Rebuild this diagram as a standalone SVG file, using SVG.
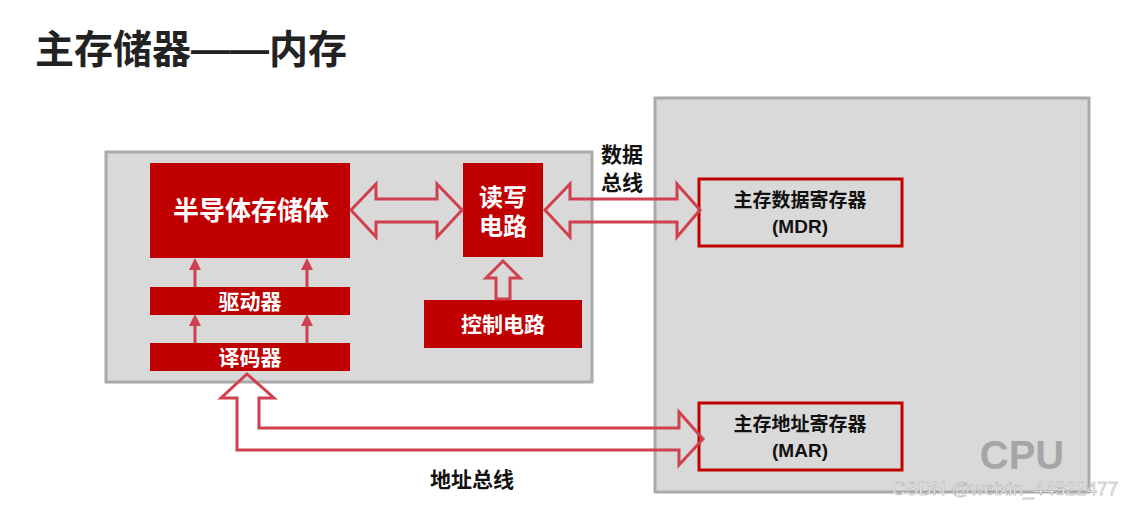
<svg xmlns="http://www.w3.org/2000/svg" width="1136" height="507" viewBox="0 0 1136 507">
<style>
.t{font-family:"Liberation Sans","Noto Sans CJK SC",sans-serif;font-weight:bold}
.red{fill:#c00000}
.wt{fill:#fff;font-size:21px;text-anchor:middle}
.big{font-size:26px}
.mid{font-size:24px}
.hol{fill:none;stroke:#d0404f;stroke-width:3;stroke-linejoin:miter}
.thin{stroke:#d0404f;stroke-width:3}
</style>
<defs><marker id="ah" markerWidth="4" markerHeight="4" refX="2" refY="2" orient="auto" markerUnits="strokeWidth"><path d="M0,0L4,2L0,4z" fill="#d0404f"/></marker></defs>
<rect width="1136" height="507" fill="#fff"/>
<text class="t" x="35" y="63" font-size="39" fill="#222">主存储器——内存</text>
<g id="memory"><rect x="106" y="152" width="486" height="230" fill="#d9d9d9" stroke="#aaa" stroke-width="3"/></g>
<g id="cpu"><rect x="655" y="98" width="434" height="394" fill="#d9d9d9" stroke="#aaa" stroke-width="3"/>
<text class="t" x="1022" y="469" font-size="40" fill="#a6a6a6" text-anchor="middle">CPU</text></g>
<g id="storage"><rect class="red" x="150" y="163" width="200" height="95"/><text class="t wt big" x="251" y="220">半导体存储体</text></g>
<g id="rw"><rect class="red" x="463" y="163" width="80" height="94"/><text class="t wt mid" x="503" y="206">读写</text><text class="t wt mid" x="503" y="235">电路</text></g>
<g id="driver"><rect class="red" x="150" y="287" width="200" height="28"/><text class="t wt" x="250" y="309">驱动器</text></g>
<g id="decoder"><rect class="red" x="150" y="343" width="200" height="28"/><text class="t wt" x="250" y="365">译码器</text></g>
<g id="ctrl"><rect class="red" x="424" y="300" width="158" height="48"/><text class="t wt" x="503" y="332">控制电路</text></g>
<g id="mdr"><rect x="699" y="179" width="203" height="67" fill="#d9d9d9" stroke="#c00000" stroke-width="3"/><text class="t" x="800" y="207" font-size="19" text-anchor="middle" fill="#111">主存数据寄存器</text><text class="t" x="800" y="233" font-size="19" text-anchor="middle" fill="#111">(MDR)</text></g>
<g id="mar"><rect x="699" y="403" width="203" height="67" fill="#d9d9d9" stroke="#c00000" stroke-width="3"/><text class="t" x="800" y="431" font-size="19" text-anchor="middle" fill="#111">主存地址寄存器</text><text class="t" x="800" y="457" font-size="19" text-anchor="middle" fill="#111">(MAR)</text></g>
<g id="connectors">
<path class="hol" d="M351,210L376,184V199H437V184L462,210L437,237V222H376V237Z"/>
<path class="hol" d="M545,210L570,184V199H677V184L700,210L677,237V222H570V237Z"/>
<path class="hol" d="M503,261L520,278H510V299H496V278H486Z"/>
<path class="hol" d="M247,374L274,398H259V428H679V412L703,439L679,465V450H237V398H221Z"/>
<line class="thin" x1="195" y1="287" x2="195" y2="264" marker-end="url(#ah)"/>
<line class="thin" x1="307" y1="287" x2="307" y2="264" marker-end="url(#ah)"/>
<line class="thin" x1="195" y1="343" x2="195" y2="320" marker-end="url(#ah)"/>
<line class="thin" x1="307" y1="343" x2="307" y2="320" marker-end="url(#ah)"/>
</g>
<text class="t" x="622" y="162" font-size="21" text-anchor="middle" fill="#111">数据</text>
<text class="t" x="622" y="190" font-size="21" text-anchor="middle" fill="#111">总线</text>
<text class="t" x="472" y="487" font-size="21" text-anchor="middle" fill="#111">地址总线</text>
<text x="1005" y="495" font-size="19" font-family="Liberation Sans,sans-serif" text-anchor="middle" fill="#f2f2f2" stroke="#999" stroke-width="0.4">CSDN @weixin_44522477</text>
</svg>
